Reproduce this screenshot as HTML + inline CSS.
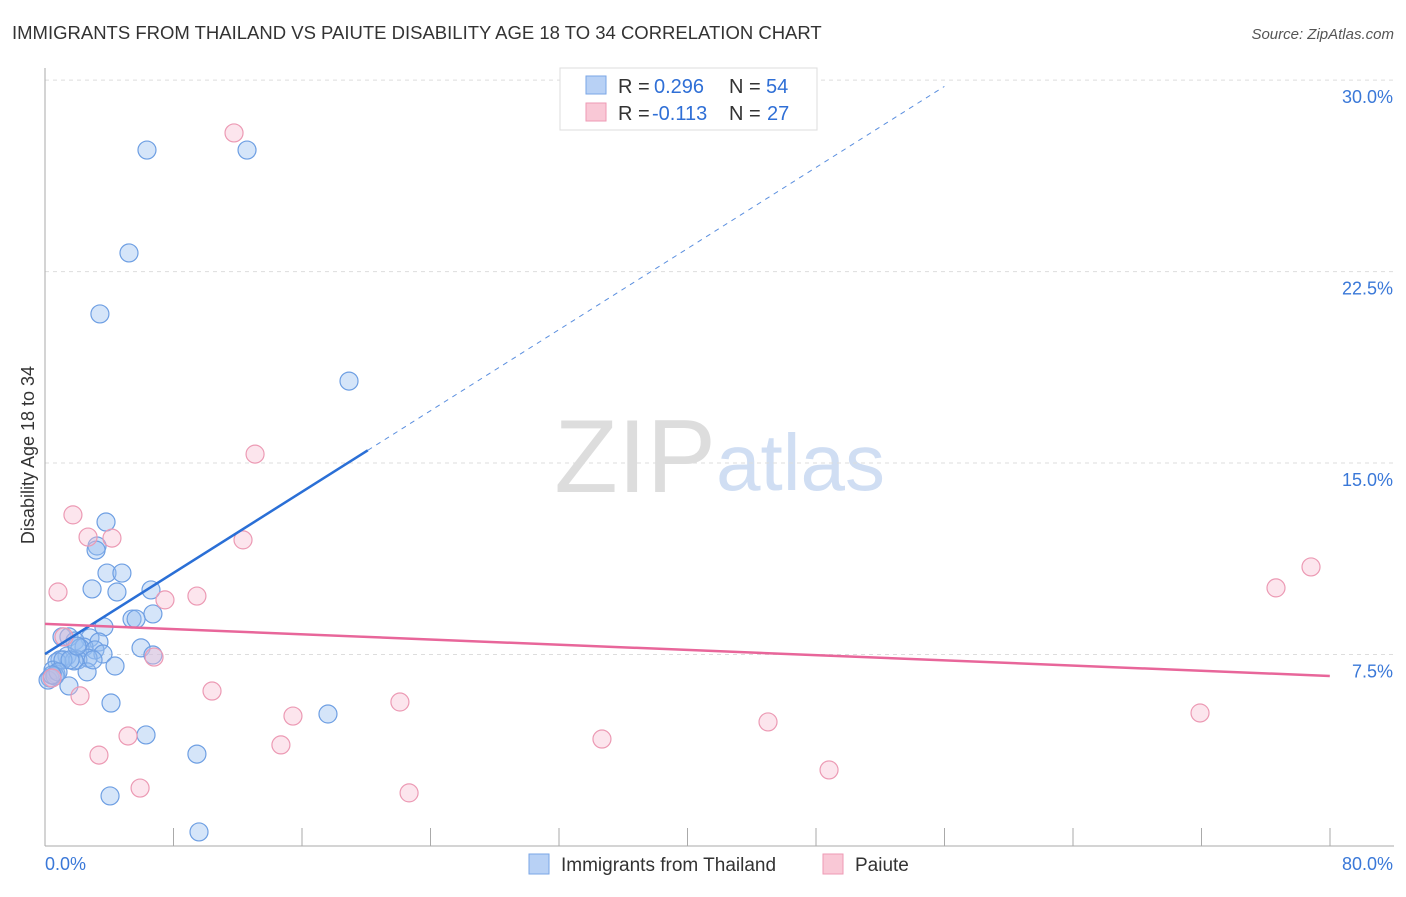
<!DOCTYPE html>
<html><head><meta charset="utf-8"><style>
body{margin:0;background:#fff;font-family:"Liberation Sans",sans-serif}
svg text{font-family:"Liberation Sans",sans-serif}
</style></head><body>
<svg id="chart" width="1406" height="892">
<text x="12" y="39" font-size="18.5" fill="#333">IMMIGRANTS FROM THAILAND VS PAIUTE DISABILITY AGE 18 TO 34 CORRELATION CHART</text>
<text x="1394" y="39" font-size="15" fill="#555" font-style="italic" text-anchor="end">Source: ZipAtlas.com</text>
<text x="716" y="492" font-size="104" fill="#ddd" text-anchor="end" font-family="Liberation Serif">ZIP</text>
<text x="716" y="490" font-size="80" fill="#d0def3">atlas</text>
<g id="grid"></g>
<g id="axes"></g>
<g id="marks"></g>
<text transform="translate(34,455) rotate(-90)" font-size="18" fill="#333" text-anchor="middle">Disability Age 18 to 34</text>
<g>
<rect x="560" y="68" width="257" height="62" fill="#fff" stroke="#ddd"/>
<rect x="586" y="76" width="20" height="18" fill="#b8d1f5" stroke="#7aa6e6"/>
<text x="618" y="93" font-size="20" fill="#333">R =</text>
<text x="654" y="93" font-size="20" fill="#2f6fd6">0.296</text>
<text x="729" y="93" font-size="20" fill="#333">N =</text>
<text x="766" y="93" font-size="20" fill="#2f6fd6">54</text>
<rect x="586" y="103" width="20" height="18" fill="#f9c8d6" stroke="#ee9ab4"/>
<text x="618" y="120" font-size="20" fill="#333">R =</text>
<text x="652" y="120" font-size="20" fill="#2f6fd6">-0.113</text>
<text x="729" y="120" font-size="20" fill="#333">N =</text>
<text x="767" y="120" font-size="20" fill="#2f6fd6">27</text>
</g>
<g>
<rect x="529" y="854" width="20" height="20" fill="#b8d1f5" stroke="#7aa6e6"/>
<text x="561" y="871" font-size="19" fill="#333">Immigrants from Thailand</text>
<rect x="823" y="854" width="20" height="20" fill="#f9c8d6" stroke="#ee9ab4"/>
<text x="855" y="871" font-size="19" fill="#333">Paiute</text>
</g>
</svg>
<script>
const yTicks=[7.5,15,22.5,30];
const yTickLabels=["7.5%","15.0%","22.5%","30.0%"];
const xTickLabels=["0.0%","80.0%"];
const blueX=[6.35,12.58,5.23,3.42,18.93,3.80,3.24,3.18,3.86,4.79,2.93,6.60,4.48,6.72,5.42,5.67,3.67,5.98,6.72,1.06,1.49,2.80,1.87,3.36,2.43,2.18,3.11,3.61,1.37,0.93,0.75,2.68,2.05,1.81,4.36,2.62,0.50,0.68,0.31,0.19,0.62,1.49,4.11,17.62,6.29,9.46,4.05,9.59,1.12,1.56,2.99,1.99,0.81,0.44];
const blueY=[27.26,27.26,23.23,20.84,18.21,12.69,11.75,11.59,10.69,10.69,10.07,10.03,9.95,9.09,8.89,8.89,8.58,7.76,7.48,8.19,8.19,8.15,8.03,7.99,7.79,7.76,7.68,7.52,7.44,7.29,7.21,7.36,7.29,7.25,7.05,6.82,6.89,6.74,6.58,6.50,6.66,6.27,5.60,5.17,4.35,3.60,1.96,0.55,7.29,7.29,7.29,7.83,6.82,6.70];
const pinkX=[11.77,13.08,1.74,2.68,4.17,12.33,0.81,7.47,9.46,6.79,10.40,2.18,22.10,15.44,45.02,5.17,3.36,14.69,34.68,48.82,5.92,22.67,76.65,78.83,71.92,1.18,0.44];
const pinkY=[27.93,15.35,12.97,12.10,12.06,11.99,9.95,9.64,9.79,7.40,6.07,5.88,5.64,5.09,4.86,4.31,3.56,3.96,4.19,2.98,2.27,2.08,10.11,10.93,5.21,8.19,6.58];
const blueTrend=[7.52,0.397];
const pinkTrend=[8.70,-0.0255];
const NS="http://www.w3.org/2000/svg";
const X=v=>45+v*16.06, Y=v=>846-v*25.53;
function mk(tag,attrs,parent){const e=document.createElementNS(NS,tag);for(const k in attrs)e.setAttribute(k,attrs[k]);parent.appendChild(e);return e;}
const grid=document.getElementById('grid'),axes=document.getElementById('axes'),marks=document.getElementById('marks');
yTicks.forEach((t,i)=>{
 const l=mk('line',{x1:45,x2:1394,y1:Y(t),y2:Y(t),stroke:'#ddd','stroke-dasharray':'4,4'},grid);
 
 
 const tx=mk('text',{x:1393,y:Y(t)+23,'font-size':18,fill:'#3a78d8','text-anchor':'end'},axes);
 tx.textContent=yTickLabels[i];
 
 
});
let a=mk('line',{x1:45,x2:45,y1:68,y2:846,stroke:'#aaa'},axes);


a=mk('line',{x1:45,x2:1394,y1:846,y2:846,stroke:'#aaa'},axes);


for(let i=1;i<=10;i++){const x=45+i*128.5;const t=mk('line',{x1:x,x2:x,y1:828,y2:846,stroke:'#aaa'},axes);
 
 }
xTickLabels.forEach((s,i)=>{const t=mk('text',{x:i?1393:45,y:870,'font-size':18,fill:'#3a78d8','text-anchor':i?'end':'start'},axes);t.textContent=s;
 
 });
blueX.forEach((x,i)=>{const c=mk('circle',{cx:X(x),cy:Y(blueY[i]),r:9,fill:'rgba(150,190,240,0.4)',stroke:'#6e9fe3','stroke-width':1.2},marks);
 
 });
pinkX.forEach((x,i)=>{const c=mk('circle',{cx:X(x),cy:Y(pinkY[i]),r:9,fill:'rgba(248,190,210,0.4)',stroke:'#ec9ab4','stroke-width':1.2},marks);
 
 });
let l=mk('line',{x1:X(0),y1:Y(blueTrend[0]),x2:X(20.1),y2:Y(blueTrend[0]+blueTrend[1]*20.1),stroke:'#2a6fd6','stroke-width':2.5},marks);


l=mk('line',{x1:X(20.1),y1:Y(blueTrend[0]+blueTrend[1]*20.1),x2:X(56),y2:Y(blueTrend[0]+blueTrend[1]*56),stroke:'#5b8fdf','stroke-width':1,'stroke-dasharray':'5,5'},marks);


l=mk('line',{x1:X(0),y1:Y(pinkTrend[0]),x2:X(80),y2:Y(pinkTrend[0]+pinkTrend[1]*80),stroke:'#e8669a','stroke-width':2.5},marks);


</script>
</body></html>
